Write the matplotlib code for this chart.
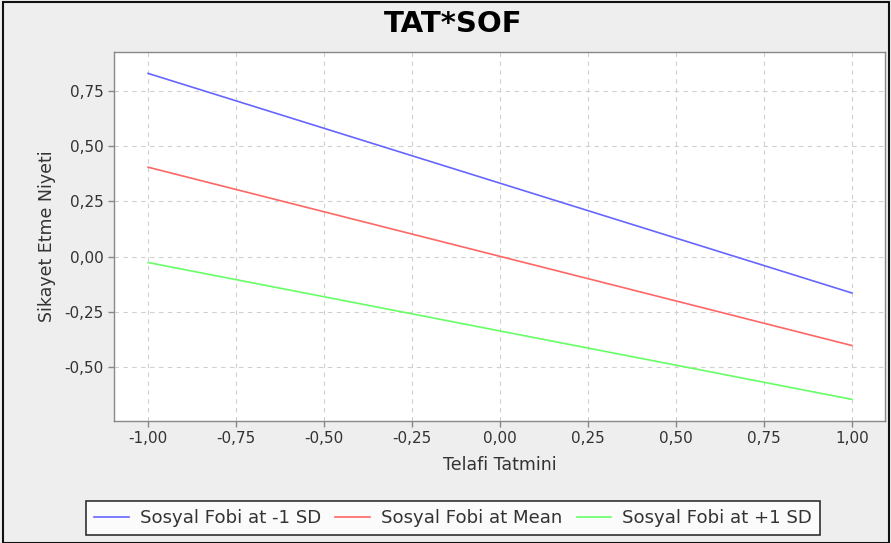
import matplotlib
matplotlib.use("Agg")
import matplotlib.pyplot as plt
from matplotlib.ticker import FuncFormatter, FixedLocator
from matplotlib.patches import Rectangle

plt.rcParams["font.family"] = ["DejaVu Sans"]

x_vals = [-1.0, 1.0]
series_names = ["Sosyal Fobi at -1 SD", "Sosyal Fobi at Mean", "Sosyal Fobi at +1 SD"]
series_low = [0.83, 0.405, -0.027]
series_high = [-0.165, -0.403, -0.647]
colors = ["#6666FF", "#FF6666", "#66FF66"]
x_ticks = [-1.0, -0.75, -0.5, -0.25, 0.0, 0.25, 0.5, 0.75, 1.0]
y_ticks = [-0.5, -0.25, 0.0, 0.25, 0.5, 0.75]

W, H = 891, 543
fig = plt.figure(figsize=(W / 100, H / 100), dpi=100)
fig.patch.set_facecolor("#EEEEEE")
fig.patches.append(Rectangle((3 / W, 0.5 / H), (W - 5) / W, (H - 2) / H, transform=fig.transFigure,
                             fill=False, edgecolor="#111111", linewidth=1.5))

left, right, top, bottom = 114, 885, 52, 421
ax = fig.add_axes([left / W, 1 - bottom / H, (right - left) / W, (bottom - top) / H])
ax.set_facecolor("white")

for name, lo, hi, c in zip(series_names, series_low, series_high, colors):
    ax.plot(x_vals, [lo, hi], color=c, linewidth=1.2, label=name)

ax.set_xlim(-1.097, 1.094)
ax.set_ylim(-0.745, 0.927)
ax.xaxis.set_major_locator(FixedLocator(x_ticks))
ax.yaxis.set_major_locator(FixedLocator(y_ticks))
fmt = FuncFormatter(lambda v, p: f"{v:.2f}".replace(".", ",").replace("-0,00", "0,00"))
ax.xaxis.set_major_formatter(fmt)
ax.yaxis.set_major_formatter(fmt)
ax.grid(True, color="#D0D0D0", linestyle=(0, (4, 4)), linewidth=0.8)
ax.set_axisbelow(True)
for s in ax.spines.values():
    s.set_color("#888888")
    s.set_linewidth(1.0)
ax.tick_params(axis="both", colors="#888888", labelcolor="#333333", labelsize=11, length=4, width=1)

ax.set_xlabel("Telafi Tatmini", fontsize=12.5, color="#333333", labelpad=7)
ax.set_ylabel("Sikayet Etme Niyeti", fontsize=12.5, color="#333333", labelpad=6)

fig.text(453 / W, 1 - 24 / H, "TAT*SOF", ha="center", va="center", fontsize=21, fontweight="bold", color="black")

handles, labels = ax.get_legend_handles_labels()
leg = fig.legend(handles, labels, loc="center", bbox_to_anchor=(453 / W, 1 - 518 / H), ncol=3,
                 frameon=True, fancybox=False, fontsize=13.1, handlelength=1.9, handletextpad=0.6,
                 columnspacing=0.8, borderpad=0.45, borderaxespad=0)
leg.get_frame().set_edgecolor("black")
leg.get_frame().set_linewidth(1.2)
leg.get_frame().set_facecolor("white")
for t in leg.get_texts():
    t.set_color("#333333")

fig.savefig("out.png", dpi=100, facecolor=fig.get_facecolor())
